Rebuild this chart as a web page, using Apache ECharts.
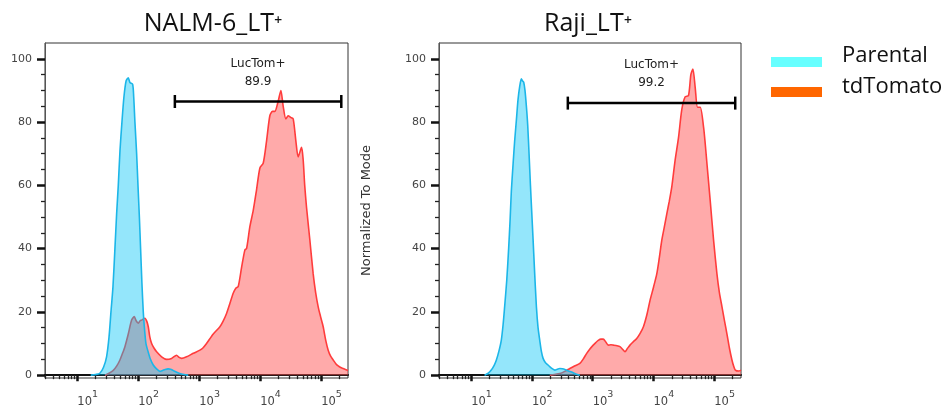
<!DOCTYPE html>
<html>
<head>
<meta charset="utf-8">
<title>LucTom expression</title>
<script src="https://cdn.jsdelivr.net/npm/echarts@6/dist/echarts.min.js"></script>
<style>
  html, body { margin: 0; padding: 0; background: #fff; }
  #chart { width: 948px; height: 410px; }
</style>
</head>
<body>
<div id="chart"></div>
<script>
// Histograms: x = log10(fluorescence), y = % of mode
const panelTitles = ['NALM-6_LT⁺', 'Raji_LT⁺'];
const seriesNames = ['Parental', 'tdTomato'];
const legendColors = ['#66FFFF', '#FF6600'];
const yAxisName = 'Normalized To Mode';

const nalmParental = [
  [1.22, 0], [1.30, 0.2], [1.37, 0.6], [1.43, 2.5], [1.48, 5.8], [1.52, 12], [1.552, 20],
  [1.585, 28], [1.617, 40], [1.645, 51], [1.672, 60], [1.70, 71], [1.732, 80], [1.765, 88],
  [1.80, 93], [1.836, 94], [1.863, 92.5], [1.907, 92], [1.925, 88], [1.945, 80],
  [1.973, 70], [1.995, 60], [2.018, 50], [2.038, 40], [2.06, 29], [2.082, 20],
  [2.105, 14], [2.126, 10], [2.16, 7.5], [2.20, 5.0], [2.246, 3.2], [2.30, 2.0],
  [2.355, 1.2], [2.40, 1.5], [2.44, 1.8], [2.49, 2.0], [2.53, 1.9], [2.57, 1.5],
  [2.63, 0.9], [2.68, 0.5], [2.75, 0.2], [2.82, 0]
];
const nalmTomato = [
  [1.454, 0], [1.52, 0.6], [1.59, 1.5], [1.65, 3.0], [1.699, 4.8], [1.74, 6.8], [1.781, 9],
  [1.836, 13], [1.891, 17.4], [1.934, 18.5], [1.965, 17.2], [2.0, 16.4], [2.03, 17.2],
  [2.055, 17.4], [2.109, 18], [2.14, 17], [2.164, 15.3], [2.19, 12], [2.219, 10],
  [2.26, 8.5], [2.301, 7.4], [2.383, 5.8], [2.464, 5], [2.546, 5.3], [2.628, 6.3],
  [2.67, 5.6], [2.71, 5.3], [2.792, 5.8], [2.902, 6.9], [3.011, 7.9], [3.06, 8.6],
  [3.12, 10], [3.23, 13], [3.339, 15.3], [3.39, 17], [3.448, 19.5], [3.50, 22.5],
  [3.557, 25.9], [3.60, 27.5], [3.639, 28], [3.694, 34], [3.749, 39.6], [3.776, 40],
  [3.831, 47], [3.885, 52], [3.94, 58.6], [3.995, 65.5], [4.049, 67], [4.104, 74],
  [4.158, 82], [4.202, 83.4], [4.24, 83.4], [4.295, 86.6], [4.339, 90], [4.377, 85],
  [4.421, 81], [4.459, 82], [4.50, 81.5], [4.541, 81], [4.585, 74], [4.623, 69],
  [4.678, 72], [4.705, 68], [4.73, 60], [4.76, 53], [4.814, 42.8], [4.869, 32],
  [4.91, 26], [4.951, 21.6], [4.99, 18.5], [5.033, 15.3], [5.075, 11], [5.115, 7.9],
  [5.155, 6.0], [5.197, 4.8], [5.24, 3.6], [5.279, 2.9], [5.32, 2.4], [5.361, 2.1],
  [5.40, 1.8], [5.44, 1.5]
];
const rajiParental = [
  [1.22, 0], [1.28, 0.6], [1.33, 1.6], [1.38, 3.2], [1.413, 4.7], [1.455, 7.5], [1.495, 11],
  [1.525, 16], [1.55, 21.6], [1.585, 30], [1.616, 40], [1.64, 49], [1.66, 58],
  [1.69, 67], [1.715, 74], [1.745, 81], [1.77, 87], [1.80, 91.5], [1.825, 93.7],
  [1.845, 93], [1.864, 92.6], [1.885, 90], [1.908, 85], [1.93, 79], [1.952, 70],
  [1.975, 60], [1.995, 52], [2.018, 43], [2.04, 34], [2.073, 21.6], [2.10, 15],
  [2.128, 11], [2.155, 7.5], [2.183, 5.3], [2.22, 4.0], [2.265, 3.2], [2.32, 2.2],
  [2.376, 1.6], [2.42, 1.9], [2.458, 2.1], [2.50, 2.0], [2.541, 1.8], [2.60, 1.3],
  [2.651, 1], [2.72, 0.4], [2.788, 0]
];
const rajiTomato = [
  [2.293, 0], [2.37, 0.2], [2.458, 0.5], [2.54, 1.2], [2.623, 2.1], [2.70, 2.9],
  [2.788, 3.7], [2.84, 5.0], [2.898, 6.8], [2.95, 8.2], [3.008, 9.5], [3.05, 10.3],
  [3.091, 11], [3.135, 11.4], [3.173, 11.4], [3.215, 10.5], [3.256, 9.5], [3.30, 9.6],
  [3.338, 9.5], [3.40, 9.3], [3.448, 9], [3.49, 8.2], [3.531, 7.4], [3.57, 8.4],
  [3.613, 9.5], [3.67, 10.6], [3.724, 11.6], [3.78, 13.2], [3.834, 15.3], [3.89, 19],
  [3.944, 23.7], [4.00, 27.8], [4.054, 32], [4.095, 37], [4.136, 42.6], [4.18, 47],
  [4.219, 51], [4.26, 55], [4.301, 59.5], [4.356, 68], [4.411, 75], [4.466, 84],
  [4.521, 88], [4.576, 88.4], [4.615, 95], [4.648, 96.8], [4.686, 91], [4.725, 84.7],
  [4.769, 84.7], [4.824, 78.4], [4.852, 73], [4.879, 67], [4.934, 55], [4.989, 42.6],
  [5.044, 32], [5.085, 26], [5.127, 21.6], [5.17, 17], [5.209, 13], [5.25, 8.5],
  [5.292, 4.7], [5.32, 2.8], [5.347, 1.6], [5.402, 1.3], [5.44, 1.6]
];

// LucTom+ gate: [start, end, height, percent positive]
const gateName = 'LucTom+';
const nalmGate = [2.6, 5.33, 86.5, 89.9];
const rajiGate = [2.59, 5.345, 86, 99.2];

// Axis ticks
const xExponents = [1, 2, 3, 4, 5];
const yMajorTicks = [0, 20, 40, 60, 80, 100];
const yMinorTicks = [5, 10, 15, 25, 30, 35, 45, 50, 55, 65, 70, 75, 85, 90, 95];
const xMin = 0.47, xMax = 5.44, yMin = -0.9, yMax = 105;

// minor log ticks: 2..9 x 10^n inside the visible range
const xMinorTicks = [];
for (let n = 0; n <= 5; n++) {
  for (let k = 2; k <= 9; k++) {
    const v = n + Math.log10(k);
    if (v > xMin && v < xMax) xMinorTicks.push(v);
  }
}

const panels = [
  { title: panelTitles[0], parental: nalmParental, tomato: nalmTomato, gate: nalmGate,
    grid: { left: 45, top: 43, width: 303, height: 335 }, titleX: 213, yName: '' },
  { title: panelTitles[1], parental: rajiParental, tomato: rajiTomato, gate: rajiGate,
    grid: { left: 439, top: 43, width: 302, height: 335 }, titleX: 588, yName: yAxisName }
];

const tickFont = 'DejaVu Sans';
const grids = [], xAxes = [], yAxes = [], series = [], graphics = [];

panels.forEach((p, i) => {
  grids.push(Object.assign({ show: true, borderColor: '#333', borderWidth: 1, backgroundColor: '#fff' }, p.grid));
  // major x axis with labels
  xAxes.push({
    gridIndex: i, type: 'value', min: xMin, max: xMax, position: 'bottom',
    axisLine: { show: true, lineStyle: { color: '#111', width: 2 } },
    axisTick: { show: true, inside: false, customValues: xExponents, length: 6, lineStyle: { color: '#111', width: 2.5 } },
    axisLabel: {
      customValues: xExponents, align: 'left', margin: 12, color: '#444',
      formatter: v => '{b|10}{s|' + Math.round(v) + '}',
      rich: {
        b: { fontSize: 11.5, fontFamily: tickFont, lineHeight: 25, color: '#444' },
        s: { fontSize: 9.5, fontFamily: tickFont, lineHeight: 8, verticalAlign: 'top', color: '#444' }
      }
    },
    splitLine: { show: false }
  });
  // minor x ticks
  xAxes.push({
    gridIndex: i, type: 'value', min: xMin, max: xMax, position: 'bottom',
    axisLine: { show: false },
    axisTick: { show: true, inside: false, customValues: xMinorTicks, length: 4, lineStyle: { color: '#222', width: 1.3 } },
    axisLabel: { show: false }, splitLine: { show: false }
  });
  yAxes.push({
    gridIndex: i, type: 'value', min: yMin, max: yMax, position: 'left',
    name: p.yName, nameLocation: 'middle', nameGap: 66,
    nameTextStyle: { fontSize: 13, fontFamily: tickFont, color: '#333' },
    axisLine: { show: true, lineStyle: { color: '#555', width: 1 } },
    axisTick: { show: true, inside: false, customValues: yMajorTicks, length: 8, lineStyle: { color: '#111', width: 2.5 } },
    axisLabel: { customValues: yMajorTicks, margin: 13, fontSize: 11, fontFamily: tickFont, color: '#444' },
    splitLine: { show: false }
  });
  yAxes.push({
    gridIndex: i, type: 'value', min: yMin, max: yMax, position: 'left',
    axisLine: { show: false },
    axisTick: { show: true, inside: false, customValues: yMinorTicks, length: 4, lineStyle: { color: '#222', width: 1.3 } },
    axisLabel: { show: false }, splitLine: { show: false }
  });

  const xi = i * 2, yi = i * 2;
  series.push({
    name: seriesNames[1], type: 'line', xAxisIndex: xi, yAxisIndex: yi,
    data: p.tomato, showSymbol: false, smooth: 0.25, z: 2,
    lineStyle: { color: '#FF3C3C', width: 1.6 },
    areaStyle: { color: 'rgba(255, 85, 85, 0.5)', opacity: 1 }
  });
  series.push({
    name: seriesNames[0], type: 'line', xAxisIndex: xi, yAxisIndex: yi,
    data: p.parental, showSymbol: false, smooth: 0.25, z: 3,
    lineStyle: { color: '#1CB6E8', width: 1.6 },
    areaStyle: { color: 'rgba(0, 195, 245, 0.42)', opacity: 1 }
  });
  series.push({
    type: 'custom', xAxisIndex: xi, yAxisIndex: yi, z: 5, silent: true,
    data: [p.gate], encode: { x: [0, 1], y: 2 },
    renderItem: (params, api) => {
      const a = api.coord([api.value(0), api.value(2)]);
      const b = api.coord([api.value(1), api.value(2)]);
      const stroke = { stroke: '#000', lineWidth: 2.5 };
      const cap = 6.5;
      return {
        type: 'group',
        children: [
          { type: 'line', shape: { x1: a[0], y1: a[1], x2: b[0], y2: b[1] }, style: stroke },
          { type: 'line', shape: { x1: a[0], y1: a[1] - cap, x2: a[0], y2: a[1] + cap }, style: stroke },
          { type: 'line', shape: { x1: b[0], y1: b[1] - cap, x2: b[0], y2: b[1] + cap }, style: stroke },
          { type: 'text', style: {
              text: gateName + '\n' + api.value(3).toFixed(1),
              x: (a[0] + b[0]) / 2, y: a[1] - 11,
              align: 'center', verticalAlign: 'bottom',
              fontSize: 12, fontFamily: tickFont, lineHeight: 18, fill: '#222'
          } }
        ]
      };
    }
  });

  graphics.push({
    type: 'text', x: p.titleX, y: 24,
    style: { text: p.title, align: 'center', verticalAlign: 'middle',
      fontSize: 25, fontFamily: '"Open Sans", "Noto Sans", "DejaVu Sans", sans-serif', fill: '#111' }
  });
});

// Legend swatches and names
seriesNames.forEach((name, k) => {
  graphics.push({ type: 'rect', shape: { x: 771, y: 57 + k * 30, width: 51, height: 10 },
    style: { fill: legendColors[k] } });
  graphics.push({ type: 'text', x: 842, y: 56 + k * 31,
    style: { text: name, align: 'left', verticalAlign: 'middle',
      fontSize: 22, fontFamily: '"Open Sans", "Noto Sans", sans-serif', fill: '#111' } });
});

const chart = echarts.init(document.getElementById('chart'), null, { renderer: 'canvas' });
chart.setOption({
  animation: false,
  backgroundColor: '#fff',
  grid: grids,
  xAxis: xAxes,
  yAxis: yAxes,
  series: series,
  graphic: graphics
});
</script>
</body>
</html>
